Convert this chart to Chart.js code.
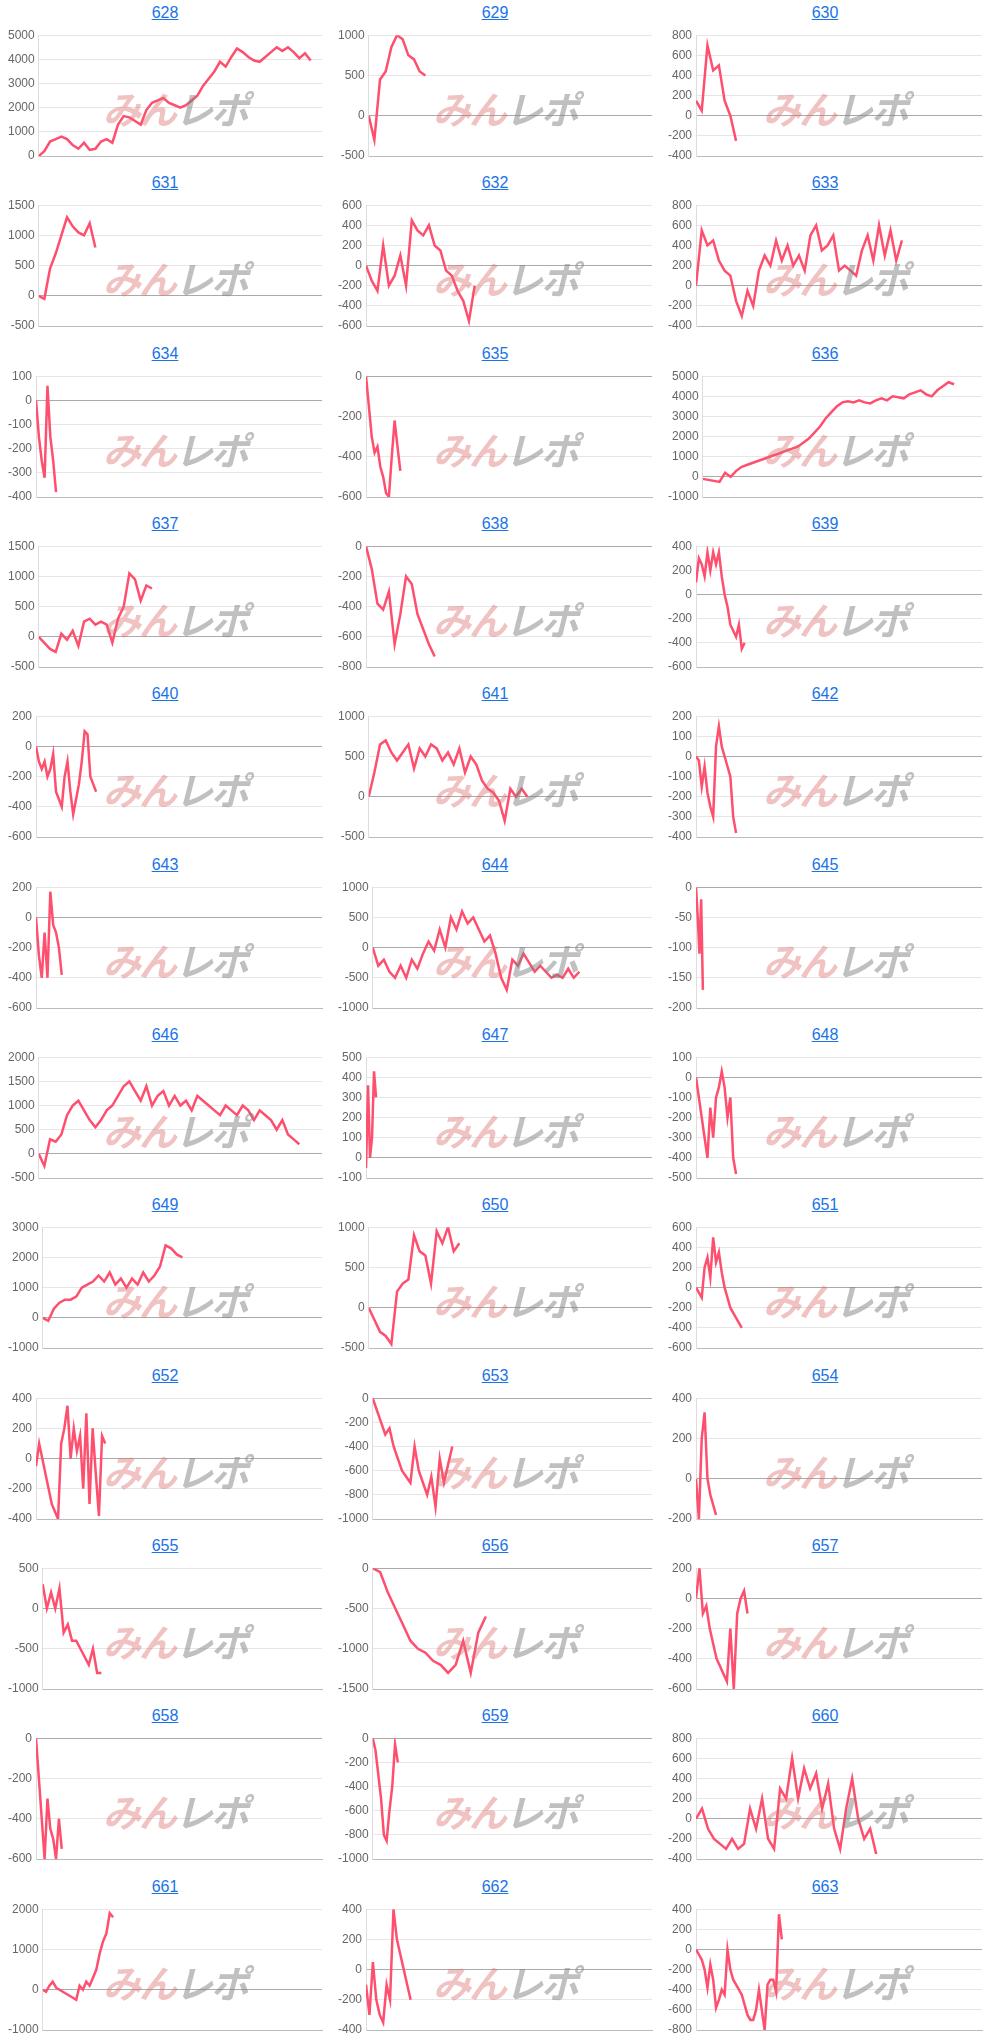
<!DOCTYPE html>
<html><head><meta charset="utf-8">
<script src="https://cdn.jsdelivr.net/npm/chart.js@4"></script>
<style>
body{margin:0;background:#fff;font-family:Arial,"Liberation Sans",sans-serif;}
#grid{display:grid;grid-template-columns:330px 330px 330px;width:990px;}
.cell{position:relative;height:170.33px;}
.t{height:24px;line-height:26px;text-align:center;font-size:16px;color:#1a73e8;text-decoration:underline;}
.c{position:relative;height:144px;}
.wm{position:absolute;left:20px;right:0;top:56px;text-align:center;font-size:38px;font-weight:bold;font-style:italic;pointer-events:none;font-family:"Noto Sans CJK JP",sans-serif;letter-spacing:-2px;}
.wm .a{color:rgba(220,110,110,0.42);} .wm .b{color:rgba(130,130,130,0.5);}
</style></head><body>
<div id="grid"></div>
<script>
const titles=["628","629","630","631","632","633","634","635","636","637","638","639","640","641","642","643","644","645","646","647","648","649","650","651","652","653","654","655","656","657","658","659","660","661","662","663"];
const yMin=[0,-500,-400,-500,-600,-400,-400,-600,-1000,-500,-800,-600,-600,-500,-400,-600,-1000,-200,-500,-100,-500,-1000,-500,-600,-400,-1000,-200,-1000,-1500,-600,-600,-1000,-400,-1000,-400,-800];
const yMax=[5000,1000,800,1500,600,800,100,0,5000,1500,0,400,200,1000,200,200,1000,0,2000,500,100,3000,1000,600,400,0,400,500,0,200,0,0,800,2000,400,400];
const yStep=[1000,500,200,500,200,200,100,200,1000,500,200,200,200,500,100,200,500,50,500,100,100,1000,500,200,200,200,200,500,500,200,200,200,200,1000,200,200];
const xStep=[2,2,2,2,2,2,1,1,2,2,2,1,1,2,1,1,2,0.6,2,0.7,1,2,2,1,1.1,1.5,1,1.5,2.7,1.2,1,1,2.1,1.2,1.2,1];
const s628=[0,200,600,700,800,700,450,300,550,250,300,600,700,550,1300,1650,1600,1450,1300,1900,2200,2300,2400,2200,2100,2000,2100,2300,2500,2900,3200,3500,3900,3700,4100,4450,4300,4100,3950,3900,4100,4300,4500,4350,4500,4300,4050,4250,3950];
const s629=[0,-300,450,550,850,1000,950,750,700,550,500];
const s630=[150,50,700,450,500,150,0,-250];
const s631=[0,-50,450,700,1000,1300,1150,1050,1000,1200,800];
const s632=[0,-150,-250,200,-200,-100,100,-200,450,350,300,400,200,150,-50,-100,-250,-350,-550,-200];
const s633=[0,550,400,450,250,150,100,-150,-300,-50,-200,150,300,200,450,250,400,200,300,150,500,600,350,400,500,150,200,150,100,350,500,250,600,300,550,250,450];
const s634=[0,-150,-250,-320,60,-150,-250,-380];
const s635=[0,-150,-300,-380,-350,-450,-500,-580,-600,-400,-220,-350,-470];
const s636=[-100,-150,-200,-250,200,0,300,500,600,700,800,900,1000,1100,1200,1300,1400,1500,1700,1900,2200,2500,2900,3200,3500,3700,3750,3700,3800,3700,3650,3800,3900,3800,4000,3950,3900,4100,4200,4300,4100,4000,4300,4500,4700,4600];
const s637=[0,-100,-200,-250,50,-50,100,-150,250,300,200,250,200,-100,300,500,1050,950,600,850,800];
const s638=[0,-150,-380,-420,-300,-650,-450,-200,-250,-450,-550,-650,-730];
const s639=[100,300,250,150,350,200,350,250,350,150,0,-100,-250,-300,-350,-250,-450,-400];
const s640=[0,-100,-150,-100,-200,-150,-50,-300,-350,-400,-200,-100,-300,-450,-350,-250,-100,100,80,-200,-250,-300];
const s641=[0,300,650,700,550,450,550,650,350,600,500,650,600,450,550,400,600,300,500,400,200,100,50,-50,-300,100,0,100,0];
const s642=[0,-20,-150,-50,-180,-250,-300,50,150,50,0,-50,-100,-300,-380];
const s643=[0,-250,-400,-100,-400,170,-50,-100,-200,-380];
const s644=[0,-300,-200,-400,-500,-300,-500,-200,-350,-100,100,-50,300,0,500,300,600,400,500,300,100,200,-100,-500,-700,-200,-300,-100,-250,-400,-300,-400,-500,-450,-500,-350,-500,-400];
const s645=[0,-50,-110,-20,-170];
const s646=[0,-250,300,250,400,800,1000,1100,900,700,550,700,900,1000,1200,1400,1500,1300,1100,1400,1000,1200,1300,1000,1200,1000,1100,900,1200,1100,1000,900,800,1000,900,800,1000,900,700,900,800,700,500,700,400,300,200];
const s647=[-50,360,0,100,430,300];
const s648=[0,-100,-200,-300,-400,-150,-300,-100,-50,30,-50,-200,-100,-400,-480];
const s649=[0,-100,300,500,600,600,700,1000,1100,1200,1400,1200,1500,1100,1300,1000,1300,1100,1500,1200,1400,1700,2400,2300,2100,2000];
const s650=[0,-150,-300,-350,-450,200,300,350,900,700,650,300,950,800,1000,700,800];
const s651=[0,-50,-100,200,300,100,500,250,350,150,0,-100,-200,-250,-300,-350,-400];
const s652=[-50,100,0,-100,-200,-300,-350,-400,100,200,350,0,200,50,150,-200,300,-300,200,-100,-380,150,100];
const s653=[0,-100,-200,-300,-250,-400,-500,-600,-650,-700,-400,-600,-700,-800,-650,-900,-500,-700,-550,-400];
const s654=[0,-200,200,330,0,-80,-130,-180];
const s655=[300,0,200,0,250,-300,-200,-400,-400,-500,-600,-700,-500,-800,-800];
const s656=[0,-50,-300,-500,-700,-900,-1000,-1050,-1150,-1200,-1300,-1200,-900,-1300,-800,-600];
const s657=[0,200,-100,-50,-200,-300,-400,-450,-500,-550,-200,-600,-100,0,50,-100];
const s658=[0,-200,-400,-600,-300,-450,-500,-600,-400,-550];
const s659=[0,-100,-300,-500,-800,-850,-600,-400,-50,-200];
const s660=[0,100,-100,-200,-250,-300,-200,-300,-250,100,-100,200,-200,-300,300,200,600,200,500,300,450,100,350,-100,-300,100,400,0,-200,-100,-350];
const s661=[0,-50,100,200,50,0,-50,-100,-150,-200,-250,100,0,200,100,300,500,900,1200,1400,1900,1800];
const s662=[-100,-300,50,-200,-300,-350,-100,-200,400,200,100,0,-100,-200];
const s663=[0,-50,-100,-200,-380,-150,-300,-580,-500,-400,-450,0,-200,-300,-350,-400,-450,-550,-650,-700,-700,-600,-400,-600,-800,-350,-300,-300,-420,350,100];
const series=[s628,s629,s630,s631,s632,s633,s634,s635,s636,s637,s638,s639,s640,s641,s642,s643,s644,s645,s646,s647,s648,s649,s650,s651,s652,s653,s654,s655,s656,s657,s658,s659,s660,s661,s662,s663];

const grid=document.getElementById('grid');
titles.forEach((t,i)=>{
  const cell=document.createElement('div');cell.className='cell';
  cell.innerHTML=`<div class="t">${t}</div><div class="c"><canvas></canvas><div class="wm"><span class="a">みん</span><span class="b">レポ</span></div></div>`;
  grid.appendChild(cell);
  const ctx=cell.querySelector('canvas');
  new Chart(ctx,{type:'line',
    data:{datasets:[{data:series[i].map((v,k)=>({x:k*xStep[i],y:v})),borderColor:'#ff4f6e',borderWidth:2.5,pointRadius:0,tension:0,fill:false}]},
    options:{responsive:true,maintainAspectRatio:false,animation:false,
      layout:{padding:{left:4,right:8,top:4,bottom:4}},
      plugins:{legend:{display:false},tooltip:{enabled:false}},
      scales:{
        x:{type:'linear',min:0,max:100,ticks:{display:false},grid:{display:false},border:{display:true,color:'#bbb'}},
        y:{min:yMin[i],max:yMax[i],ticks:{stepSize:yStep[i],color:'#666',font:{size:12,family:'Arial'},padding:4,callback:v=>String(v)},
           grid:{color:c=>c.tick&&c.tick.value===0?'#aaa':'#e6e6e6',drawTicks:false},border:{display:true,color:'#ddd'}}
      }}});
});
</script></body></html>
